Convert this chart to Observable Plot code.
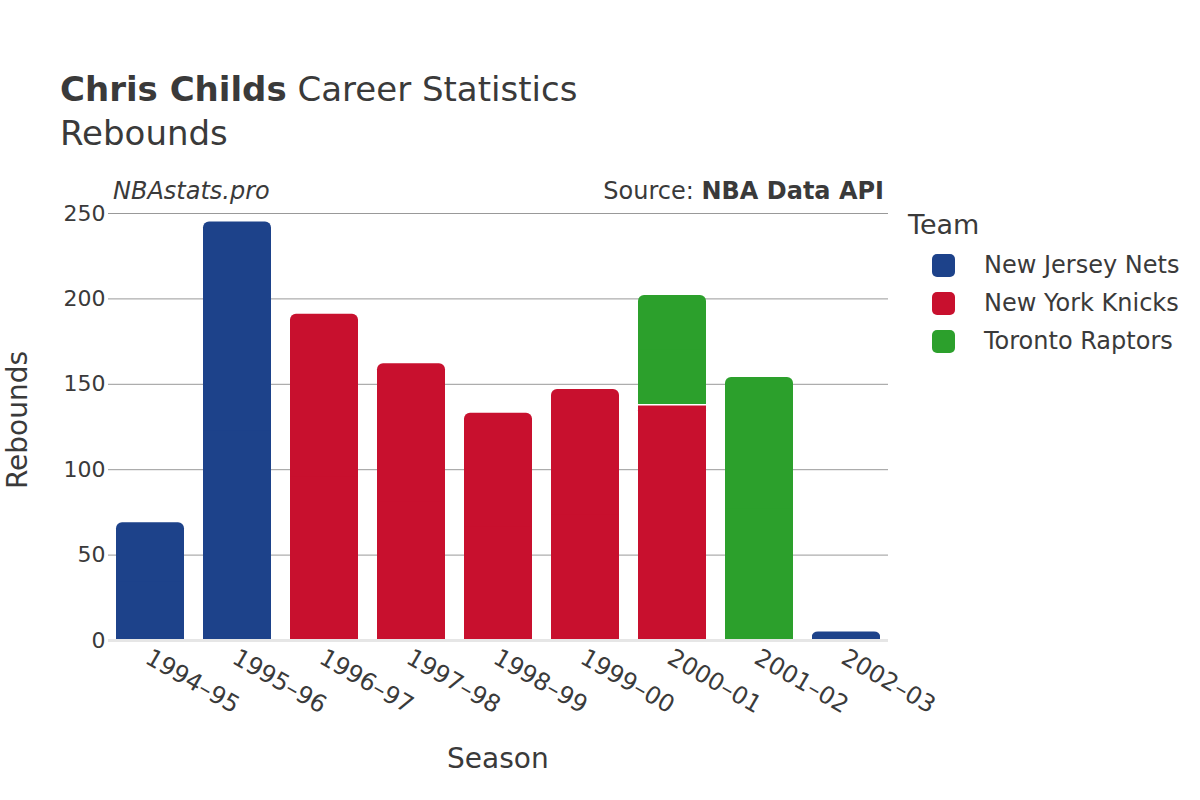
<!DOCTYPE html>
<html>
<head>
<meta charset="utf-8">
<script src="https://cdn.jsdelivr.net/npm/d3@7"></script>
<script src="https://cdn.jsdelivr.net/npm/@observablehq/plot@0.6"></script>
<style>
  html, body { margin: 0; padding: 0; background: #fff; }
  body { width: 1200px; height: 800px; overflow: hidden; font-family: "DejaVu Sans", sans-serif; color: #3a3a3a; }
  #wrap { position: relative; width: 1200px; height: 800px; }
  #chart { position: absolute; left: 0; top: 0; }
  .t { position: absolute; white-space: nowrap; color: #3a3a3a; }
  .sw { position: absolute; width: 23px; height: 23px; border-radius: 5px; }
</style>
</head>
<body>
<div id="wrap">
  <div id="chart"></div>
  <div class="t" style="left:60px; top:69px; font-size:34px;"><b>Chris Childs</b> Career Statistics</div>
  <div class="t" style="left:60px; top:113px; font-size:34px;">Rebounds</div>
  <div class="t" style="left:113px; top:177px; font-size:24px; font-style:italic;">NBAstats.pro</div>
  <div class="t" style="right:316px; top:177px; font-size:24px;">Source: <b>NBA Data API</b></div>
  <div class="t" style="left:447px; top:742px; font-size:28px;">Season</div>
  <div class="t" style="left:17px; top:420px; font-size:28px; transform: translate(-50%,-50%) rotate(-90deg); transform-origin: center;">Rebounds</div>
  <div id="legend"></div>
</div>
<script>
const seasons = ["1994–95","1995–96","1996–97","1997–98","1998–99","1999–00","2000–01","2001–02","2002–03"];
const teams = ["New Jersey Nets","New York Knicks","Toronto Raptors"];
const teamColors = ["#1d428a","#c8102e","#2ca02c"];
// one entry per bar segment, in stacking order
const segSeason = ["1994–95","1995–96","1996–97","1997–98","1998–99","1999–00","2000–01","2000–01","2001–02","2002–03"];
const segTeam   = ["New Jersey Nets","New Jersey Nets","New York Knicks","New York Knicks","New York Knicks","New York Knicks","New York Knicks","Toronto Raptors","Toronto Raptors","New Jersey Nets"];
const segValue  = [69, 245, 191, 162, 133, 147, 138, 64, 154, 5];
const yTicks = [0, 50, 100, 150, 200, 250];

// build stacked rows
const base = {};
const rows = segSeason.map((s, i) => {
  const b = base[s] || 0;
  base[s] = b + segValue[i];
  return {season: s, team: segTeam[i], value: segValue[i], y1: b, y2: b + segValue[i]};
});
rows.forEach((r, i) => {
  r.isTop = !rows.some((o, j) => j > i && o.season === r.season);
});

const plot = Plot.plot({
  width: 1200,
  height: 800,
  marginLeft: 108,
  marginRight: 312,
  marginTop: 213,
  marginBottom: 160,
  style: {fontFamily: "DejaVu Sans, sans-serif", fontSize: "22px", color: "#3a3a3a", background: "transparent"},
  x: {domain: seasons, paddingInner: 0.22, paddingOuter: 0.09, round: true, label: null},
  y: {domain: [0, 250], label: null},
  color: {domain: teams, range: teamColors},
  marks: [
    Plot.gridY(yTicks, {stroke: "#999", strokeOpacity: 1, strokeWidth: 1}),
    Plot.barY(rows, {x: "season", y1: "y1", y2: "y2", fill: "team", rx: 6}),
    Plot.barY(rows, {x: "season", y1: "y1", y2: d => d.isTop ? (d.y1 + d.y2) / 2 : d.y2, fill: "team"}),
    Plot.tickY(rows.filter(d => !d.isTop), {x: "season", y: "y2", stroke: "white", strokeWidth: 1.5}),
    Plot.ruleY([0], {stroke: "#e6e6e6", strokeWidth: 3}),
    Plot.axisY({ticks: yTicks, tickSize: 0, tickPadding: 3, fontSize: 22, label: null}),
    Plot.axisX({tickSize: 0, tickPadding: 15, tickRotate: 30, fontSize: 24, label: null, dx: -3})
  ]
});
document.getElementById("chart").appendChild(plot);

// legend
const leg = document.getElementById("legend");
const title = document.createElement("div");
title.className = "t";
title.style.cssText = "left:908px; top:209px; font-size:27px;";
title.textContent = "Team";
leg.appendChild(title);
teams.forEach((t, i) => {
  const sw = document.createElement("div");
  sw.className = "sw";
  sw.style.left = "932px";
  sw.style.top = (254 + i * 38) + "px";
  sw.style.background = teamColors[i];
  leg.appendChild(sw);
  const lb = document.createElement("div");
  lb.className = "t";
  lb.style.cssText = `left:984px; top:${251 + i * 38}px; font-size:24px;`;
  lb.textContent = t;
  leg.appendChild(lb);
});
</script>
</body>
</html>
